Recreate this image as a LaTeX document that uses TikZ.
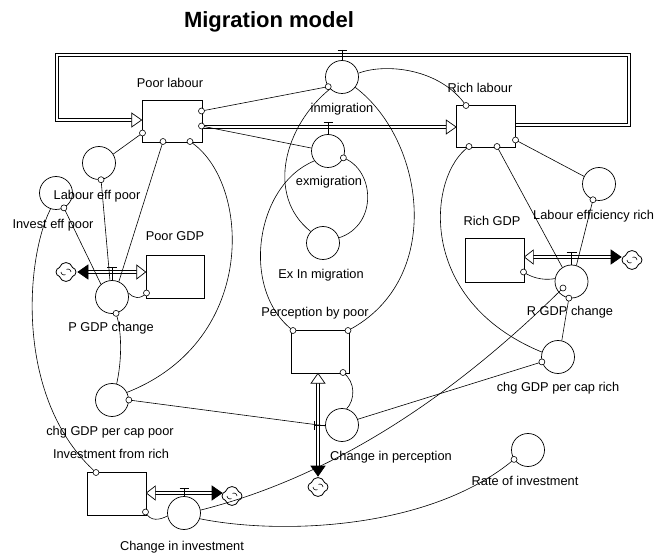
\documentclass[tikz,border=0pt]{standalone}
\usepackage{fontspec}
\setmainfont{Liberation Sans}
\usetikzlibrary{shapes.symbols}
\begin{document}
\begin{tikzpicture}[x=1pt,y=-1pt,
  lab/.style={font=\fontsize{12.8}{14}\selectfont, inner sep=0pt, text height=9pt, text depth=2.5pt},
  aux/.style={circle, draw, line width=0.7pt, minimum size=33pt, inner sep=0pt},
  stock/.style={rectangle, draw, line width=0.7pt, inner sep=0pt},
  link/.style={line width=0.6pt},
  pipe/.style={double, double distance=2.2pt, line width=0.9pt, line join=miter},
  hol/.style={draw, fill=white, line width=0.7pt, line join=miter},
  sol/.style={draw, fill=black, line width=0.7pt, line join=miter},
  mk/.style={draw, fill=white, line width=0.6pt},
  cl/.style={cloud, cloud puffs=4, draw, line width=0.8pt, minimum width=20pt, minimum height=19pt, aspect=1, inner sep=0pt},
  swirl/.style={line width=0.6pt},
  valve/.style={line width=0.7pt}
]
\useasboundingbox[fill=white] (0,0) rectangle (654,556);

% title
\node[inner sep=0pt, font=\fontsize{22}{26}\selectfont\bfseries] (title) at (269,22) {Migration model};

% stocks
\node[stock, minimum width=60pt, minimum height=42pt] (plab) at (172,121) {};
\node[stock, minimum width=59pt, minimum height=42pt] (rlab) at (486,126) {};
\node[stock, minimum width=58pt, minimum height=43pt] (pgdp) at (175,276.5) {};
\node[stock, minimum width=59pt, minimum height=44pt] (rgdp) at (494.5,260) {};
\node[stock, minimum width=58pt, minimum height=43pt] (perc) at (320,351.5) {};
\node[stock, minimum width=59pt, minimum height=43pt] (invr) at (116.5,493.5) {};

% auxiliaries / rates
\node[aux] (inmig) at (342,77) {};
\node[aux] (exmig) at (328,151) {};
\node[aux] (exin) at (323,243) {};
\node[aux] (labeff) at (99,163) {};
\node[aux] (investeff) at (56,193) {};
\node[aux] (pgdpc) at (112,297) {};
\node[aux] (chgpoor) at (112,400) {};
\node[aux] (chginv) at (184,513) {};
\node[aux] (chgperc) at (342,425) {};
\node[aux] (rateinv) at (528,450) {};
\node[aux] (chgrich) at (558,357) {};
\node[aux] (rgdpc) at (571.5,281.5) {};
\node[aux] (labrich) at (599,184) {};

% clouds
\node[cl] (cl1) at (66,272) {};
\node[cl] (cl2) at (632,260) {};
\node[cl] (cl3) at (232,496) {};
\node[cl] (cl4) at (318,487) {};
\foreach \c in {cl1,cl2,cl3,cl4}{
  \draw[swirl] ([xshift=-5pt]\c.center) arc[start angle=180, end angle=300, radius=3pt];
  \draw[swirl] ([xshift=5pt]\c.center) arc[start angle=0, end angle=120, radius=3pt];
}

% labels
\node[lab] (tPlab) at (170,84) {Poor labour};
\node[lab] (tRlab) at (480,89) {Rich labour};
\node[lab] (tInm) at (342,109) {inmigration};
\node[lab] (tExm) at (329,182) {exmigration};
\node[lab] (tExin) at (321,275) {Ex In migration};
\node[lab] (tLep) at (97,196) {Labour eff poor};
\node[lab] (tIep) at (53,225) {Invest eff poor};
\node[lab] (tPgdp) at (175,237) {Poor GDP};
\node[lab] (tPgdpc) at (111,328) {P GDP change};
\node[lab] (tCpp) at (110,432) {chg GDP per cap poor};
\node[lab] (tInvr) at (111,455) {Investment from rich};
\node[lab] (tCinv) at (182,547) {Change in investment};
\node[lab] (tPerc) at (315,313) {Perception by poor};
\node[lab] (tCperc) at (391,457) {Change in perception};
\node[lab] (tRoi) at (525,482) {Rate of investment};
\node[lab] (tCpr) at (558,388) {chg GDP per cap rich};
\node[lab] (tRgdpc) at (570,312) {R GDP change};
\node[lab] (tRgdp) at (492,222) {Rich GDP};
\node[lab, anchor=west] (tLer) at (533,216) {Labour efficiency rich};

% marker coordinates
\coordinate (mPa) at (201.5,111);
\coordinate (mPb) at (201.5,126);
\coordinate (mPc) at (142.5,133);
\coordinate (mPd) at (163,141.5);
\coordinate (mPe) at (190,141.5);
\coordinate (mInm) at (inmig.215);
\coordinate (mRf) at (466,105.5);
\coordinate (mRg) at (469,146.5);
\coordinate (mRh) at (497,146.5);
\coordinate (mRi) at (515.5,140);
\coordinate (mExm) at (exmig.336);
\coordinate (mLep) at (labeff.277);
\coordinate (mIep) at (investeff.298);
\coordinate (mPg) at (146.5,293);
\coordinate (mPgc) at (pgdpc.284);
\coordinate (mLer) at (labrich.249);
\coordinate (mRgd) at (523.5,272);
\coordinate (mRg1) at (563,288);
\coordinate (mRg2) at (rgdpc.261);
\coordinate (mPcTL) at (293,330.5);
\coordinate (mPcTR) at (348,330.5);
\coordinate (mPcB) at (343,372.5);
\coordinate (mCpr) at (chgrich.197);
\coordinate (mCpp) at (chgpoor.0);
\coordinate (mRoi) at (rateinv.214);
\coordinate (mIa) at (96,472.5);
\coordinate (mIb) at (145.5,512);

% ---------- pipes (flows) ----------
% big loop: Rich labour -> Poor labour (inmigration)
\coordinate (lpS) at ([yshift=1pt]rlab.east);
\coordinate (lpT) at ([yshift=1pt]plab.west);
\draw[pipe] (lpS) -| (629,55) -| (57,120) -- ([xshift=-10pt]lpT);
\draw[hol] (lpT) -- ++(-10,-7) -- ++(0,14) -- cycle;
% middle pipe: Poor labour -> Rich labour (exmigration)
\coordinate (mpS) at ([yshift=-6pt]plab.east);
\coordinate (mpT) at ([yshift=-1pt]rlab.west);
\draw[pipe] (mpS) -- ([xshift=-10pt]mpT);
\draw[hol] (mpT) -- ++(-10,-7) -- ++(0,14) -- cycle;
% Poor GDP flow
\coordinate (pgT) at ([yshift=4.5pt]pgdp.west);
\coordinate (pgC) at (78,272);
\draw[pipe] ([xshift=10pt]pgC) -- ([xshift=-9pt]pgT);
\draw[hol] (pgT) -- ++(-9,-7) -- ++(0,14) -- cycle;
\draw[sol] (pgC) -- ++(10,-7) -- ++(0,14) -- cycle;
% Rich GDP flow
\coordinate (rgT) at ([yshift=3pt]rgdp.east);
\coordinate (rgC) at (621,257);
\draw[pipe] ([xshift=9pt]rgT) -- ([xshift=-10pt]rgC);
\draw[hol] (rgT) -- ++(9,-7) -- ++(0,14) -- cycle;
\draw[sol] (rgC) -- ++(-10,-7) -- ++(0,14) -- cycle;
% Investment flow
\coordinate (ivT) at ([yshift=0.5pt]invr.east);
\coordinate (ivC) at (222,493);
\draw[pipe] ([xshift=9pt]ivT) -- ([xshift=-10pt]ivC);
\draw[hol] (ivT) -- ++(9,-7) -- ++(0,14) -- cycle;
\draw[sol] (ivC) -- ++(-10,-7) -- ++(0,14) -- cycle;
% Perception flow
\coordinate (peT) at ([xshift=-2pt]perc.south);
\coordinate (peC) at (318,476);
\draw[pipe] ([yshift=-10pt]peT) -- ([yshift=10pt]peC);
\draw[hol] (peT) -- ++(-7,10) -- ++(14,0) -- cycle;
\draw[sol] (peC) -- ++(-7,-10) -- ++(14,0) -- cycle;

% valves
\coordinate (vInm) at (342,50);
\draw[valve] ([xshift=-4.5pt]vInm) -- ([xshift=4.5pt]vInm);
\draw[valve] (vInm) -- (inmig.north);
\coordinate (vExm) at (328,122.5);
\draw[valve] ([xshift=-4.5pt]vExm) -- ([xshift=4.5pt]vExm);
\draw[valve] (vExm) -- (exmig.north);
\coordinate (vPg) at (112,267.5);
\draw[valve] ([xshift=-5pt]vPg) -- ([xshift=5pt]vPg);
\draw[valve] (vPg) -- (pgdpc.north);
\coordinate (vRg) at (571.5,252.5);
\draw[valve] ([xshift=-5pt]vRg) -- ([xshift=5pt]vRg);
\draw[valve] (vRg) -- (rgdpc.north);
\coordinate (vIv) at (184,488.5);
\draw[valve] ([xshift=-4.5pt]vIv) -- ([xshift=4.5pt]vIv);
\draw[valve] (vIv) -- (chginv.north);
\coordinate (vPe) at (314,425);
\draw[valve] ([yshift=-4.5pt]vPe) -- ([yshift=4.5pt]vPe);
\draw[valve] (vPe) -- (chgperc.west);

% ---------- links ----------
\draw[link] (mPa) -- (mInm);
\draw[link] (mPb) -- (exmig.170);
\draw[link] (inmig.13) .. controls (385,63) and (440,68) .. (mRf);
\draw[link] (inmig.225) .. controls (285,125) and (265,195) .. (exin.137);
\draw[link] (inmig.322) .. controls (425,140) and (445,280) .. (mPcTR);
\draw[link] (mExm) .. controls (375,170) and (378,225) .. (exin.18);
\draw[link] (exmig.216) .. controls (255,185) and (240,290) .. (mPcTL);
\draw[link] (mPe) .. controls (250,180) and (260,340) .. (chgpoor.27);
\draw[link] (mPd) -- (pgdpc.66);
\draw[link] (mLep) -- (pgdpc.97);
\draw[link] (mIep) -- (pgdpc.131);
\draw[link] (labeff.32) -- (mPc);
\draw[link] (mPg) .. controls (140,300) and (133,298) .. (pgdpc.14);
\draw[link] (mPgc) .. controls (123,335) and (121,365) .. (chgpoor.74);
\draw[link] (investeff.251) .. controls (25,260) and (15,400) .. (mIa);
\draw[link] (mCpp) -- (chgperc.183);
\draw[link] (mPcB) .. controls (356,382) and (355,400) .. (chgperc.74);
\draw[link] (chgperc.20) -- (mCpr);
\draw[link] (chginv.10) .. controls (324,479) and (445,405) .. (mRg1);
\draw[link] (chginv.340) .. controls (280,535) and (430,530) .. (mRoi);
\draw[link] (mIb) .. controls (150,522) and (160,520) .. (chginv.190);
\draw[link] (mRg) .. controls (428,175) and (415,300) .. (chgrich.163);
\draw[link] (mRh) -- (rgdpc.123);
\draw[link] (mRi) -- (labrich.153);
\draw[link] (mLer) -- (rgdpc.73);
\draw[link] (mRgd) .. controls (535,280) and (548,280) .. (rgdpc.170);
\draw[link] (mRg2) -- (chgrich.77);

% ---------- markers ----------
\foreach \m in {mPa,mPb,mPc,mPd,mPe,mInm,mRf,mRg,mRh,mRi,mExm,mLep,mIep,mPg,mPgc,mLer,mRgd,mRg1,mRg2,mPcTL,mPcTR,mPcB,mCpr,mCpp,mRoi,mIa,mIb}
  \draw[mk] (\m) circle (3pt);
\end{tikzpicture}
\end{document}
